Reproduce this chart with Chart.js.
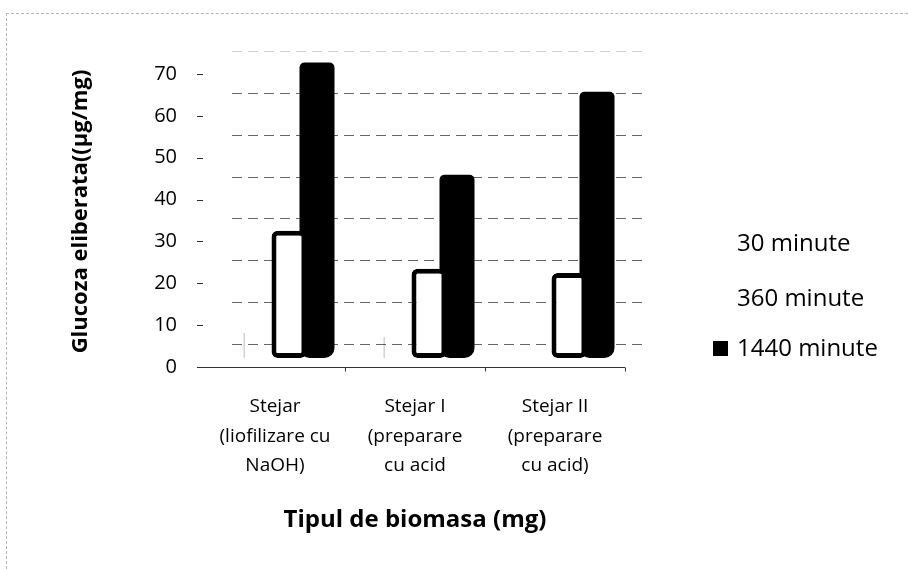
<!DOCTYPE html>
<html>
<head>
<meta charset="utf-8">
<script src="https://cdn.jsdelivr.net/npm/chart.js@4.4.1/dist/chart.umd.min.js"></script>
<style>
  html, body { margin: 0; padding: 0; background: #fff; }
  #wrap { position: relative; width: 908px; height: 569px; overflow: hidden; font-family: "Open Sans", sans-serif; }
  #frame { position: absolute; left: 6px; top: 13px; right: 0; bottom: 0;
           border-top: 1px dashed #b5b5b5; border-left: 1px dashed #b5b5b5; }
  #chart { position: absolute; left: 0; top: 0; }
  .leg { position: absolute; height: 30px; line-height: 30px; font-size: 24px; color: #000; white-space: nowrap; }
  .leg i { position: absolute; left: -24px; top: 9px; width: 15px; height: 15px; }
</style>
</head>
<body>
<div id="wrap">
  <div id="frame"></div>
  <canvas id="chart" width="908" height="569"></canvas>
  <div id="legend"></div>
</div>
<script>
// ======================
// DATA
// ======================
const categories = [
  ["Stejar", "(liofilizare cu", "NaOH)"],
  ["Stejar I", "(preparare", "cu acid"],
  ["Stejar II", "(preparare", "cu acid)"]
];
const seriesNames = ["30 minute", "360 minute", "1440 minute"];
const min30 = [6, 5, 0];
const min360 = [30.4, 21.3, 20.3];
const min1440 = [70.6, 43.8, 63.6];
const yTicks = [0, 10, 20, 30, 40, 50, 60, 70];
const xTitle = "Tipul de biomasa (mg)";
const yTitle = "Glucoza eliberata((µg/mg)";

// 3D look: front plane sits below/left of the bars, back wall above/right
const FRONT_DX = -14, FRONT_DY = 9;
const BACK_DX = 13, BACK_DY = -14;

// ======================
// WALL + FRONT AXIS
// ======================
const wallPlugin = {
  id: "wall",
  beforeDatasetsDraw(chart) {
    const { ctx, chartArea: a, scales: { x, y } } = chart;
    ctx.save();
    // back wall grid
    ctx.lineWidth = 1;
    ctx.setLineDash([10, 6]);
    yTicks.forEach(v => {
      const py = Math.round(y.getPixelForValue(v) + BACK_DY) + 0.5;
      ctx.strokeStyle = v === 70 ? "#cfcfcf" : "#666";
      ctx.beginPath();
      ctx.moveTo(a.left + BACK_DX, py);
      ctx.lineTo(a.right + 8, py);
      ctx.stroke();
    });
    ctx.setLineDash([]);

    // front x axis
    const fy = Math.round(y.getPixelForValue(0) + FRONT_DY) + 0.5;
    ctx.strokeStyle = "#333";
    ctx.beginPath();
    ctx.moveTo(a.left + FRONT_DX - 6, fy);
    ctx.lineTo(a.right + FRONT_DX, fy);
    ctx.stroke();
    const step = x.getPixelForValue(1) - x.getPixelForValue(0);
    categories.forEach((c, i) => {
      const px = Math.round(x.getPixelForValue(i) + FRONT_DX + step / 2) + 0.5;
      ctx.beginPath();
      ctx.moveTo(px, fy);
      ctx.lineTo(px, fy + 4);
      ctx.stroke();
    });

    // front y tick marks
    yTicks.forEach(v => {
      const py = Math.round(y.getPixelForValue(v) + FRONT_DY) + 0.5;
      ctx.beginPath();
      ctx.moveTo(a.left + FRONT_DX - 8, py);
      ctx.lineTo(a.left + FRONT_DX - 2, py);
      ctx.stroke();
    });

    // x title, centred under the front plane
    ctx.fillStyle = "#000";
    ctx.font = "bold 24px 'Open Sans'";
    ctx.textAlign = "center";
    ctx.textBaseline = "middle";
    ctx.fillText(xTitle, (a.left + a.right) / 2 + FRONT_DX, x.bottom - 49);
    ctx.restore();
  }
};

// ======================
// CHART
// ======================
const colors = ["#ffffff", "#ffffff", "#000000"];

new Chart(document.getElementById("chart"), {
  type: "bar",
  data: {
    labels: categories,
    datasets: [
      {
        label: seriesNames[0],
        data: min30,
        backgroundColor: "rgba(255,255,255,0)",
        borderColor: "rgba(0,0,0,0.35)",
        borderWidth: { left: 1, top: 0, right: 0, bottom: 0 },
        borderSkipped: false
      },
      {
        label: seriesNames[1],
        data: min360,
        backgroundColor: colors[1],
        borderColor: "#000",
        borderWidth: 5,
        borderSkipped: false,
        borderRadius: 6
      },
      {
        label: seriesNames[2],
        data: min1440,
        backgroundColor: colors[2],
        borderWidth: 0,
        borderSkipped: false,
        borderRadius: { topLeft: 5, topRight: 5, bottomLeft: 10, bottomRight: 10 }
      }
    ]
  },
  options: {
    responsive: false,
    animation: false,
    categoryPercentage: 0.6,
    barPercentage: 1.25,
    layout: { padding: { left: 60, right: 269, top: 65, bottom: 0 } },
    plugins: {
      legend: { display: false },
      tooltip: { enabled: false }
    },
    datasets: { bar: { clip: false } },
    scales: {
      x: {
        grid: { display: false, drawTicks: false },
        border: { display: false },
        ticks: {
          color: "#000",
          font: { family: "Open Sans", size: 19, lineHeight: 1.55 },
          padding: 34,
          labelOffset: FRONT_DX,
          maxRotation: 0,
          autoSkip: false
        },
        afterFit(s) { s.height = 211; }
      },
      y: {
        min: 0,
        max: 70,
        grid: { display: false, drawTicks: false },
        border: { display: false },
        ticks: {
          stepSize: 10,
          color: "#000",
          font: { family: "Open Sans", size: 20 },
          padding: 42,
          labelOffset: FRONT_DY
        },
        title: {
          display: true,
          text: yTitle,
          color: "#000",
          font: { family: "Open Sans", size: 22, weight: "bold" },
          padding: { top: 8, bottom: 0 }
        },
        afterFit(s) { s.width = 159; }
      }
    }
  },
  plugins: [wallPlugin]
});

// ======================
// LEGEND (right side)
// ======================
const legendY = [227, 282, 332];
const legend = document.getElementById("legend");
seriesNames.forEach((name, i) => {
  const row = document.createElement("div");
  row.className = "leg";
  row.style.left = "737px";
  row.style.top = legendY[i] + "px";
  row.innerHTML = '<i style="background:' + colors[i] + '"></i>' + name;
  legend.appendChild(row);
});
</script>
</body>
</html>
